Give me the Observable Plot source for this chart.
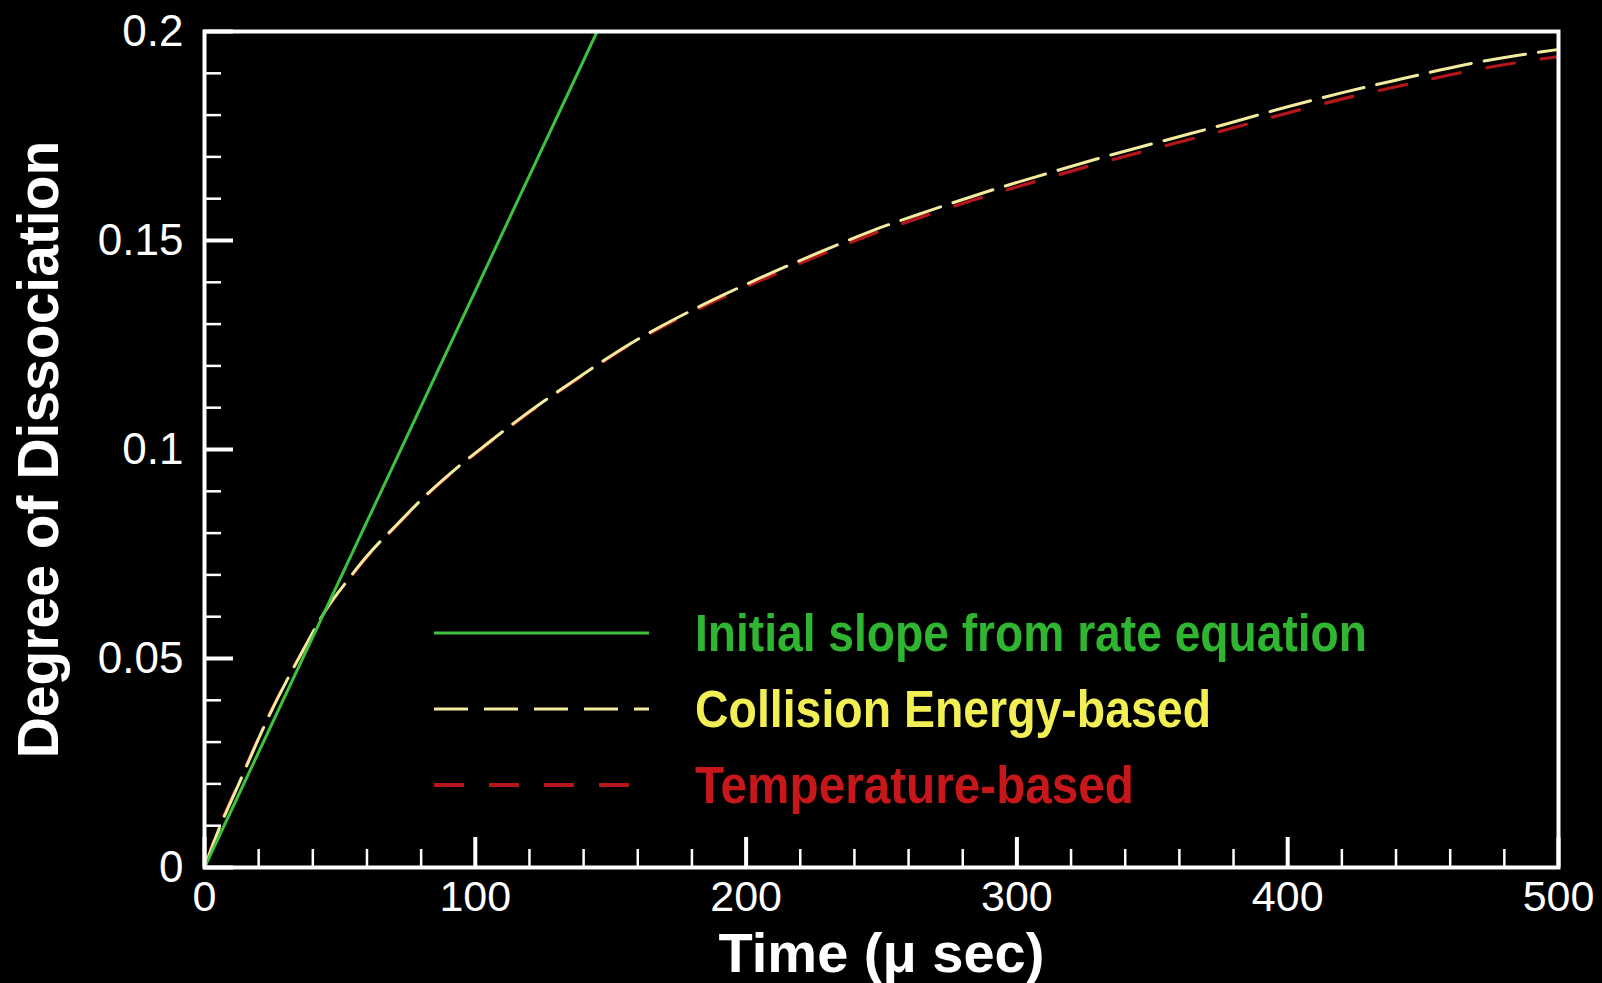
<!DOCTYPE html>
<html><head><meta charset="utf-8">
<script src="https://cdn.jsdelivr.net/npm/d3@7"></script>
<script src="https://cdn.jsdelivr.net/npm/@observablehq/plot@0.6"></script>
<style>
html,body{margin:0;padding:0;background:#000;}
#wrap{position:relative;width:1602px;height:983px;background:#000;}
#legend{position:absolute;left:0;top:0;pointer-events:none;}
</style></head><body><div id="wrap"></div>
<script>
// ---- data ----
const time = [0, 4, 13, 24, 36, 46, 52, 60, 71, 82, 93, 104, 114, 125, 136, 147, 158, 169, 180, 192, 203, 225, 246, 268, 290, 311, 331, 355, 378, 400, 421, 443, 465, 487, 500];
const collision = [0, 0.0070, 0.0205, 0.0365, 0.0515, 0.0628, 0.0680, 0.0745, 0.0820, 0.0892, 0.0955, 0.1012, 0.1062, 0.1114, 0.1163, 0.1211, 0.1256, 0.1296, 0.1333, 0.1371, 0.1404, 0.1466, 0.1522, 0.1572, 0.1619, 0.1660, 0.1698, 0.1740, 0.1780, 0.1820, 0.1855, 0.1888, 0.1920, 0.1945, 0.1957];
const temperature = [0, 0.0073, 0.0208, 0.0367, 0.0515, 0.0627, 0.0678, 0.0743, 0.0818, 0.0890, 0.0953, 0.1010, 0.1060, 0.1112, 0.1161, 0.1209, 0.1254, 0.1293, 0.1329, 0.1366, 0.1398, 0.1459, 0.1514, 0.1563, 0.1609, 0.1649, 0.1686, 0.1727, 0.1766, 0.1805, 0.1840, 0.1872, 0.1903, 0.1928, 0.1940];
const slopeTime = [0, 145];
const slopeValue = [0, 0.2];

const seriesNames = ["Initial slope from rate equation", "Collision Energy-based", "Temperature-based"];
const xTitle = "Time (μ sec)";
const yTitle = "Degree of Dissociation";

const xMajor = [0, 100, 200, 300, 400, 500];
const xMinor = [20, 40, 60, 80, 120, 140, 160, 180, 220, 240, 260, 280, 320, 340, 360, 380, 420, 440, 460, 480];
const yMajor = [0, 0.05, 0.1, 0.15, 0.2];
const yMinor = [0.01, 0.02, 0.03, 0.04, 0.06, 0.07, 0.08, 0.09, 0.11, 0.12, 0.13, 0.14, 0.16, 0.17, 0.18, 0.19];
const yTickLabels = ["0", "0.05", "0.1", "0.15", "0.2"];

// ---- build tables ----
const collRows = time.map((t, i) => ({t, v: collision[i]}));
const tempRows = time.map((t, i) => ({t, v: temperature[i]}));
const slopeRows = slopeTime.map((t, i) => ({t, v: slopeValue[i]}));

const W = 1602, H = 983, ML = 204, MR = 44, MT = 31, MB = 116;
const FW = W - ML - MR, FH = H - MT - MB;

const GREEN = "#3cc23c", YELLOW = "#f3ec9e", RED = "#b5161b";
const font = "'Liberation Sans', Arial, Helvetica, sans-serif";

const chart = Plot.plot({
  width: W, height: H,
  marginLeft: ML, marginRight: MR, marginTop: MT, marginBottom: MB,
  style: {background: "#000", color: "#fff", fontFamily: font, overflow: "visible"},
  x: {domain: [0, 500], axis: null},
  y: {domain: [0, 0.2], axis: null},
  marks: [
    Plot.line(tempRows, {x: "t", y: "v", stroke: RED, strokeWidth: 3.2, strokeDasharray: "28,27", curve: "monotone-x", clip: true}),
    Plot.line(collRows, {x: "t", y: "v", stroke: YELLOW, strokeWidth: 3, strokeDasharray: "42,13", curve: "monotone-x", clip: true}),
    Plot.line(slopeRows, {x: "t", y: "v", stroke: GREEN, strokeWidth: 3, clip: true}),
    Plot.ruleX(xMinor, {x: d => d, insetTop: FH - 18, stroke: "#fff", strokeWidth: 2.5}),
    Plot.ruleX(xMajor, {x: d => d, insetTop: FH - 30, stroke: "#fff", strokeWidth: 4}),
    Plot.ruleY(yMinor, {y: d => d, insetRight: FW - 17, stroke: "#fff", strokeWidth: 2.5}),
    Plot.ruleY(yMajor, {y: d => d, insetRight: FW - 29, stroke: "#fff", strokeWidth: 4}),
    Plot.frame({stroke: "#fff", strokeWidth: 4}),
    Plot.axisX(xMajor, {tickSize: 0, tickPadding: 13, fontSize: 43, label: null, fill: "#fff"}),
    Plot.axisY(yMajor, {tickSize: 0, tickPadding: 21, fontSize: 44, label: null, fill: "#fff",
      tickFormat: d => yTickLabels[yMajor.indexOf(d)]}),
    Plot.text([xTitle], {frameAnchor: "bottom", lineAnchor: "middle", textAnchor: "middle", dy: 87, fontSize: 56, fontWeight: "bold", fill: "#fff"}),
    Plot.text([yTitle], {frameAnchor: "left", textAnchor: "middle", lineAnchor: "middle", dx: -165, rotate: -90, fontSize: 57, fontWeight: "bold", fill: "#fff"})
  ]
});

const wrap = document.getElementById("wrap");
wrap.appendChild(chart);

// ---- legend overlay (inside the plot frame, as in the reference) ----
const legendRows = [
  {name: seriesNames[0], stroke: GREEN, text: "#2fb52f", dash: null, y: 633, len: 672, w: 3.2},
  {name: seriesNames[1], stroke: YELLOW, text: "#f2ef55", dash: "34,16", y: 709, len: 516, w: 3.2},
  {name: seriesNames[2], stroke: RED, text: "#c8171a", dash: "30,25", y: 785, len: 439, w: 4}
];
const svgNS = "http://www.w3.org/2000/svg";
const lg = document.createElementNS(svgNS, "svg");
lg.setAttribute("id", "legend");
lg.setAttribute("width", W);
lg.setAttribute("height", H);
legendRows.forEach(r => {
  const ln = document.createElementNS(svgNS, "line");
  ln.setAttribute("x1", 434); ln.setAttribute("x2", 649);
  ln.setAttribute("y1", r.y); ln.setAttribute("y2", r.y);
  ln.setAttribute("stroke", r.stroke); ln.setAttribute("stroke-width", r.w);
  if (r.dash) ln.setAttribute("stroke-dasharray", r.dash);
  lg.appendChild(ln);
  const tx = document.createElementNS(svgNS, "text");
  tx.setAttribute("x", 695); tx.setAttribute("y", r.y + 18);
  tx.setAttribute("fill", r.text);
  tx.setAttribute("font-family", font);
  tx.setAttribute("font-weight", "bold");
  tx.setAttribute("font-size", 51);
  tx.setAttribute("textLength", r.len);
  tx.setAttribute("lengthAdjust", "spacingAndGlyphs");
  tx.textContent = r.name;
  lg.appendChild(tx);
});
wrap.appendChild(lg);
</script>
</body></html>
